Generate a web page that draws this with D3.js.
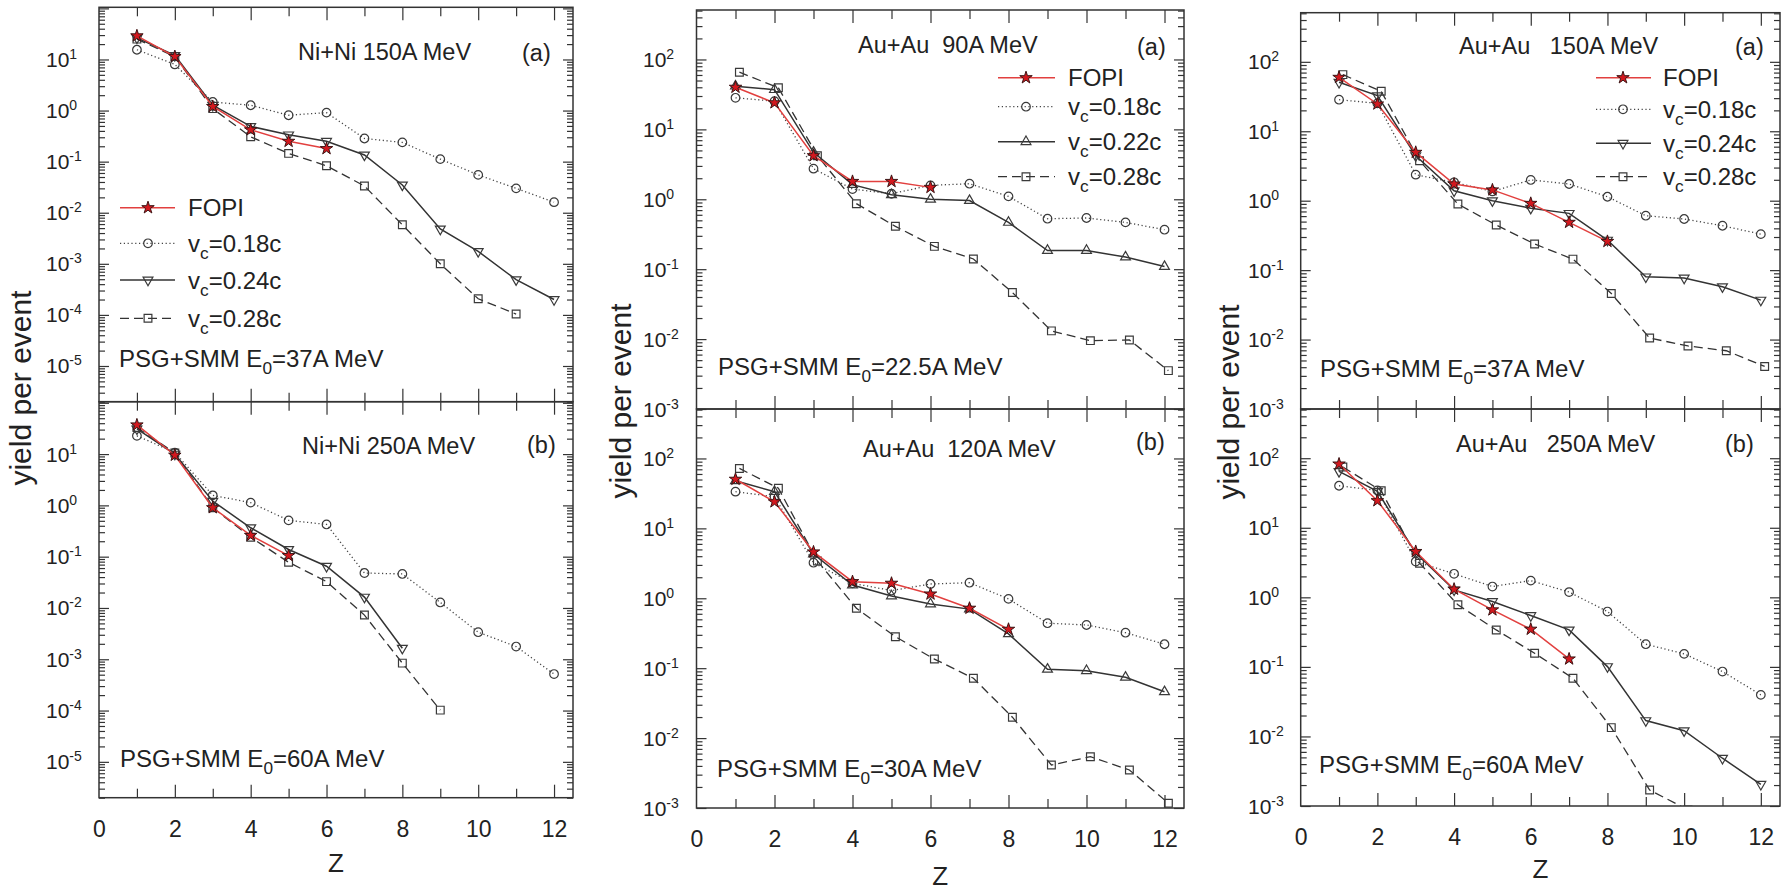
<!DOCTYPE html>
<meta charset="utf-8">
<style>
body { margin: 0; background: #fff; }
svg { display: block; background: #fff; }
.frame { fill: none; stroke: #333; stroke-width: 1.5px; }
.ax line { stroke: #333; stroke-width: 1.2px; }
.txt { fill: #222; font-family: "Liberation Sans", Arial, sans-serif; }
</style>
<svg width="1791" height="890"></svg>
<script src="https://d3js.org/d3.v7.min.js"></script>
<script>

var svg = d3.select('svg');
var FONT = '"Liberation Sans", Arial, sans-serif';

// ---- data (yield per event vs Z, series start at Z = 1) ----
var Z = d3.range(1, 13);
var zLabels = [0, 2, 4, 6, 8, 10, 12];
var legendNames = ['FOPI', 'v_c=0.18c', 'v_c=0.24c', 'v_c=0.28c'];
var legendNamesAu90 = ['FOPI', 'v_c=0.18c', 'v_c=0.22c', 'v_c=0.28c'];

// Ni+Ni 150A MeV
var ni150_fopi = [29, 11.4, 1.2, 0.42, 0.25, 0.18];
var ni150_v018 = [15.5, 8.0, 1.47, 1.27, 0.81, 0.91, 0.284, 0.238, 0.112, 0.055, 0.030, 0.0161];
var ni150_v024 = [26.5, 12, 1.27, 0.49, 0.335, 0.25, 0.135, 0.035, 0.0048, 0.00175, 0.00049, 0.0002];
var ni150_v028 = [25, 11.4, 1.09, 0.306, 0.145, 0.083, 0.0334, 0.0058, 0.001, 0.000207, 0.000104];

// Ni+Ni 250A MeV
var ni250_fopi = [37, 9.5, 0.9, 0.26, 0.105];
var ni250_v018 = [22.7, 10.7, 1.57, 1.13, 0.51, 0.425, 0.048, 0.046, 0.0128, 0.00337, 0.00177, 0.000515];
var ni250_v024 = [31, 10, 1.21, 0.366, 0.138, 0.065, 0.0163, 0.00164];
var ni250_v028 = [33, 10.5, 0.9, 0.24, 0.0778, 0.0326, 0.00726, 0.00084, 0.000102];

// Au+Au 90A MeV
var au90_fopi = [40, 24, 4.2, 1.8, 1.8, 1.48];
var au90_v018 = [28.3, 25.3, 2.74, 1.40, 1.2, 1.58, 1.67, 1.1, 0.527, 0.54, 0.467, 0.367];
var au90_v022 = [41.5, 37, 4.7, 1.62, 1.16, 1.0, 0.96, 0.467, 0.185, 0.185, 0.149, 0.109];
var au90_v028 = [65.8, 39.3, 4.2, 0.865, 0.41, 0.212, 0.14, 0.0464, 0.0131, 0.0095, 0.0097, 0.00354];

// Au+Au 120A MeV
var au120_fopi = [50.4, 24, 4.6, 1.73, 1.64, 1.15, 0.72, 0.36];
var au120_v018 = [33.5, 28.4, 3.23, 1.64, 1.29, 1.6, 1.67, 0.98, 0.44, 0.415, 0.322, 0.22];
var au120_v022 = [48, 33.5, 4.3, 1.55, 1.08, 0.83, 0.70, 0.31, 0.0964, 0.092, 0.074, 0.046];
var au120_v028 = [72, 37.5, 3.42, 0.72, 0.282, 0.135, 0.0717, 0.0199, 0.00412, 0.00542, 0.0035, 0.00117];

// Au+Au 150A MeV
var au150_fopi = [59.8, 24.7, 4.97, 1.74, 1.43, 0.915, 0.488, 0.259];
var au150_v018 = [28.5, 25.2, 2.37, 1.84, 1.36, 1.99, 1.74, 1.14, 0.608, 0.545, 0.436, 0.33];
var au150_v024 = [50.7, 32.6, 4.45, 1.39, 1.0, 0.78, 0.657, 0.271, 0.080, 0.077, 0.0577, 0.037];
var au150_v028 = [65.4, 37.6, 3.77, 0.895, 0.446, 0.238, 0.144, 0.046, 0.0105, 0.0081, 0.0069, 0.0041];

// Au+Au 250A MeV
var au250_fopi = [82.5, 24.5, 4.56, 1.31, 0.66, 0.348, 0.13];
var au250_v018 = [40.2, 34.4, 3.27, 2.18, 1.43, 1.74, 1.19, 0.625, 0.212, 0.154, 0.0857, 0.0396];
var au250_v024 = [64.6, 33.3, 4.33, 1.28, 0.87, 0.547, 0.34, 0.101, 0.0169, 0.0121, 0.00486, 0.00205];
var au250_v028 = [74.7, 34, 3.1, 0.78, 0.34, 0.157, 0.0687, 0.0134, 0.0017, 0.00088];

// ---- layout ----
var cols = [
  {x0: 99, x1: 573, top: 7.3, mid: 401.7, bot: 797.7, ydom: [2e-6, 105], labE: [-5, 1], labX: 46, yLab: [20, 388], zOff: 74, dz: 0},
  {x0: 696.5, x1: 1184, top: 10, mid: 409, bot: 808, ydom: [1e-3, 510], labE: [-3, 2], labX: 643, yLab: [620, 401], zOff: 77, dz: 0.1},
  {x0: 1300.7, x1: 1780, top: 12.7, mid: 409, bot: 806, ydom: [1e-3, 510], labE: [-3, 2], labX: 1248, yLab: [1228, 402], zOff: 72, dz: 0.1}
];

var styles = {
  fopi:  {stroke: '#e2403f', width: 1.5, dash: null, marker: 'star'},
  dot:   {stroke: '#444', width: 1.3, dash: '1.2,2.6', marker: 'circle'},
  solid: {stroke: '#333', width: 1.5, dash: null, marker: 'tri'},
  dash:  {stroke: '#333', width: 1.3, dash: '9,5', marker: 'square'}
};

var panels = [
  {col: 0, half: 'top', title: 'Ni+Ni 150A MeV', titleXY: [298, 60], tag: '(a)', tagXY: [522, 61],
   psg: '37A MeV', psgXY: [119, 367], tri: 'down',
   series: [['dot', ni150_v018], ['dash', ni150_v028], ['solid', ni150_v024], ['fopi', ni150_fopi]],
   legend: {x0: 120, x1: 175, xm: 148, tx: 188, rows: [207.7, 243.3, 280, 318.3], names: legendNames}},
  {col: 0, half: 'bottom', title: 'Ni+Ni 250A MeV', titleXY: [302, 454], tag: '(b)', tagXY: [527, 453],
   psg: '60A MeV', psgXY: [120, 767], tri: 'down',
   series: [['dot', ni250_v018], ['dash', ni250_v028], ['solid', ni250_v024], ['fopi', ni250_fopi]]},
  {col: 1, half: 'top', title: 'Au+Au  90A MeV', titleXY: [858, 53], tag: '(a)', tagXY: [1137, 55],
   psg: '22.5A MeV', psgXY: [718, 375], tri: 'up',
   series: [['dot', au90_v018], ['dash', au90_v028], ['solid', au90_v022], ['fopi', au90_fopi]],
   legend: {x0: 998, x1: 1055, xm: 1026, tx: 1068, rows: [77.7, 106.7, 141.7, 176.7], names: legendNamesAu90}},
  {col: 1, half: 'bottom', title: 'Au+Au  120A MeV', titleXY: [863, 457], tag: '(b)', tagXY: [1136, 450],
   psg: '30A MeV', psgXY: [717, 777], tri: 'up',
   series: [['dot', au120_v018], ['dash', au120_v028], ['solid', au120_v022], ['fopi', au120_fopi]]},
  {col: 2, half: 'top', title: 'Au+Au   150A MeV', titleXY: [1459, 54], tag: '(a)', tagXY: [1735, 55],
   psg: '37A MeV', psgXY: [1320, 377], tri: 'down',
   series: [['dot', au150_v018], ['dash', au150_v028], ['solid', au150_v024], ['fopi', au150_fopi]],
   legend: {x0: 1596, x1: 1651, xm: 1623, tx: 1663, rows: [77.7, 109.3, 143.3, 176.7], names: legendNames}},
  {col: 2, half: 'bottom', title: 'Au+Au   250A MeV', titleXY: [1456, 452], tag: '(b)', tagXY: [1725, 452],
   psg: '60A MeV', psgXY: [1319, 773], tri: 'down',
   series: [['dot', au250_v018], ['dash', au250_v028], ['solid', au250_v024], ['fopi', au250_fopi]]}
];

function markerPath(kind) {
  if (kind == 'star') return d3.symbol(d3.symbolStar, 48)();
  if (kind == 'circle') return d3.symbol(d3.symbolCircle, 58)();
  if (kind == 'square') return d3.symbol(d3.symbolSquare, 60)();
  return d3.symbol(d3.symbolTriangle, 42)();
}

function drawMarker(g, kind, st, cx, cy, tri) {
  var m = g.append('path')
    .attr('d', markerPath(kind))
    .attr('transform', 'translate(' + cx + ',' + cy + ')' + (kind == 'tri' && tri == 'down' ? ' rotate(180)' : ''));
  if (kind == 'star') {
    m.attr('fill', '#d3181e').attr('stroke', '#3b1414').attr('stroke-width', 1);
  } else {
    m.attr('fill', 'none').attr('stroke', '#3a3a3a').attr('stroke-width', 1.2);
  }
}

// text with "_x" subscript part, e.g. 'v_c=0.18c'
function subText(g, x, y, size, str) {
  var parts = str.split('_');
  var t = g.append('text').attr('class', 'txt').attr('x', x).attr('y', y).style('font-size', size + 'px');
  t.append('tspan').text(parts[0]);
  if (parts.length > 1) {
    t.append('tspan').attr('dy', 7).style('font-size', (size * 0.72) + 'px').text(parts[1].charAt(0));
    t.append('tspan').attr('dy', -7).text(parts[1].slice(1));
  }
  return t;
}

function yTickList(dom) {
  var out = [];
  for (var e = Math.floor(Math.log10(dom[0])); e <= Math.ceil(Math.log10(dom[1])); e++) {
    for (var m = 1; m <= 9; m++) {
      var v = m * Math.pow(10, e);
      if (v >= dom[0] * 0.999 && v <= dom[1] * 1.001) out.push({v: v, e: e, major: m == 1});
    }
  }
  return out;
}

function styleAxis(sel) {
  sel.attr('class', 'ax');
  sel.select('.domain').remove();
  sel.selectAll('text').attr('class', 'txt').style('font-size', '23px').attr('font-family', FONT).attr('fill', '#222');
}

panels.forEach(function(p, pi) {
  var c = cols[p.col];
  var yr = p.half == 'top' ? [c.mid, c.top] : [c.bot, c.mid];
  var x = d3.scaleLinear().domain([0, 12.5]).range([c.x0, c.x1]);
  var y = d3.scaleLog().domain(c.ydom).range(yr);
  var g = svg.append('g');

  var clipId = 'clip' + pi;
  svg.append('clipPath').attr('id', clipId).append('rect')
    .attr('x', c.x0).attr('y', yr[1]).attr('width', c.x1 - c.x0).attr('height', yr[0] - yr[1]);

  // y ticks on both sides, pointing inwards
  var yt = yTickList(c.ydom);
  var major = yt.filter(function(t) { return t.major; }).map(function(t) { return t.v; });
  var minor = yt.filter(function(t) { return !t.major; }).map(function(t) { return t.v; });
  [[major, 10], [minor, 6]].forEach(function(s) {
    g.append('g').attr('transform', 'translate(' + c.x0 + ',0)')
      .call(d3.axisLeft(y).tickValues(s[0]).tickSize(-s[1]).tickFormat('')).call(styleAxis);
    g.append('g').attr('transform', 'translate(' + c.x1 + ',0)')
      .call(d3.axisRight(y).tickValues(s[0]).tickSize(-s[1]).tickFormat('')).call(styleAxis);
  });

  // x ticks top and bottom, pointing inwards
  var even = Z.filter(function(z) { return z % 2 == 0; }), odd = Z.filter(function(z) { return z % 2 == 1; });
  [[even, 13], [odd, 9]].forEach(function(s) {
    g.append('g').attr('transform', 'translate(0,' + yr[1] + ')')
      .call(d3.axisTop(x).tickValues(s[0]).tickSize(-s[1]).tickFormat('')).call(styleAxis);
    g.append('g').attr('transform', 'translate(0,' + yr[0] + ')')
      .call(d3.axisBottom(x).tickValues(s[0]).tickSize(-s[1]).tickFormat('')).call(styleAxis);
  });
  if (p.half == 'bottom') {
    g.append('g').attr('transform', 'translate(0,' + yr[0] + ')')
      .call(d3.axisBottom(x).tickValues(zLabels).tickSize(0).tickPadding(22.7).tickFormat(d3.format('d')))
      .call(styleAxis);
    g.append('text').attr('class', 'txt')
      .attr('x', (c.x0 + c.x1) / 2).attr('y', c.bot + c.zOff)
      .attr('text-anchor', 'middle').style('font-size', '26px').text('Z');
  }

  // y tick labels 10^n
  yt.filter(function(t) { return t.major && t.e >= c.labE[0] && t.e <= c.labE[1]; }).forEach(function(t) {
    var lab = g.append('text').attr('class', 'txt')
      .attr('x', c.labX).attr('y', y(t.v) + 7.5).style('font-size', '21px');
    lab.append('tspan').text('10');
    lab.append('tspan').attr('dy', -8).style('font-size', '14px').text(String(t.e));
  });

  // frame
  g.append('rect').attr('class', 'frame')
    .attr('x', c.x0).attr('y', yr[1]).attr('width', c.x1 - c.x0).attr('height', yr[0] - yr[1]);

  // series
  var plot = g.append('g').attr('clip-path', 'url(#' + clipId + ')');
  p.series.forEach(function(s) {
    var st = styles[s[0]];
    var dz = st.marker == 'square' ? c.dz : 0;
    var pts = s[1].map(function(v, i) { return {z: Z[i] + dz, v: v}; });
    var line = d3.line().x(function(d) { return x(d.z); }).y(function(d) { return y(d.v); });
    plot.append('path').datum(pts)
      .attr('d', line)
      .attr('fill', 'none')
      .attr('stroke', st.stroke)
      .attr('stroke-width', st.width)
      .attr('stroke-dasharray', st.dash);
    pts.forEach(function(d) { drawMarker(plot, st.marker, st, x(d.z), y(d.v), p.tri); });
  });

  // legend
  if (p.legend) {
    var L = p.legend;
    ['fopi', 'dot', 'solid', 'dash'].forEach(function(k, i) {
      var st = styles[k], ry = L.rows[i];
      g.append('line').attr('x1', L.x0).attr('x2', L.x1).attr('y1', ry).attr('y2', ry)
        .attr('stroke', st.stroke).attr('stroke-width', st.width).attr('stroke-dasharray', st.dash);
      drawMarker(g, st.marker, st, L.xm, ry, p.tri);
      subText(g, L.tx, ry + 8.5, 24, L.names[i]);
    });
  }

  // annotations
  g.append('text').attr('class', 'txt').attr('x', p.titleXY[0]).attr('y', p.titleXY[1])
    .style('font-size', '23.5px').style('white-space', 'pre').attr('xml:space', 'preserve').text(p.title);
  g.append('text').attr('class', 'txt').attr('x', p.tagXY[0]).attr('y', p.tagXY[1])
    .style('font-size', '23.5px').text(p.tag);
  subText(g, p.psgXY[0], p.psgXY[1], 24, 'PSG+SMM E_0=' + p.psg);
});

// y axis titles, one per column
cols.forEach(function(c) {
  svg.append('text').attr('class', 'txt')
    .attr('transform', 'translate(' + c.yLab[0] + ',' + c.yLab[1] + ') rotate(-90)')
    .attr('text-anchor', 'middle').attr('dy', '0.35em')
    .style('font-size', '30px').text('yield per event');
});

</script>
